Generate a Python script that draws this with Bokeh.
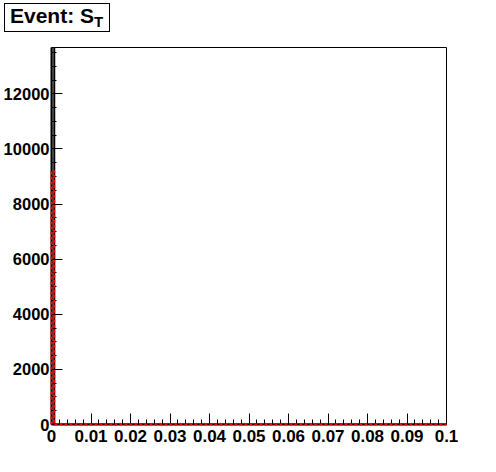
from bokeh.plotting import figure
from bokeh.models import FixedTicker, Range1d, Div
from bokeh.layouts import column
from bokeh.embed import file_html
from bokeh.resources import INLINE

# ---- data ----
bin_edges = [0.0, 0.0007, 0.1]
black_counts = [13700, 0]
red_counts = [9200, 0]

x_ticks = [0.0, 0.01, 0.02, 0.03, 0.04, 0.05, 0.06, 0.07, 0.08, 0.09, 0.1]
x_tick_labels = ["0", "0.01", "0.02", "0.03", "0.04", "0.05", "0.06", "0.07", "0.08", "0.09", "0.1"]
x_minor_step = 0.002
y_ticks = [0, 2000, 4000, 6000, 8000, 10000, 12000]
y_tick_labels = ["0", "2000", "4000", "6000", "8000", "10000", "12000"]
y_minor_step = 500
x_max = 0.1
y_max = 13680

title_text = "Event: S"
title_sub = "T"

FONT = "Liberation Sans"

W = 490
DIV_H = 36
FIG_H = 430
p = figure(width=W, height=FIG_H, output_backend="svg", toolbar_location=None,
           x_range=Range1d(0, x_max), y_range=Range1d(0, y_max),
           min_border_left=50, min_border_top=11, min_border_right=44, min_border_bottom=42)
p.background_fill_color = "white"
p.border_fill_color = "white"
p.outline_line_color = "black"
p.outline_line_width = 1
p.grid.visible = False

x_minor = [round(i * x_minor_step, 6) for i in range(int(round(x_max / x_minor_step)) + 1)]
y_minor = [i * y_minor_step for i in range(int(y_max // y_minor_step) + 1)]
p.xaxis.ticker = FixedTicker(ticks=x_ticks, minor_ticks=x_minor)
p.yaxis.ticker = FixedTicker(ticks=y_ticks, minor_ticks=y_minor)
p.xaxis.major_label_overrides = {t: l for t, l in zip(x_ticks, x_tick_labels)}
p.yaxis.major_label_overrides = {t: l for t, l in zip(y_ticks, y_tick_labels)}

for ax in (p.xaxis, p.yaxis):
    ax.axis_line_color = "black"
    ax.axis_line_width = 2
    ax.major_tick_in = 11
    ax.major_tick_out = 0
    ax.minor_tick_in = 5
    ax.minor_tick_out = 0
    ax.major_tick_line_color = "black"
    ax.minor_tick_line_color = "black"
    ax.major_label_text_font = FONT
    ax.major_label_text_font_style = "bold"
    ax.major_label_text_color = "black"
p.xaxis.major_label_text_font_size = "17px"
p.yaxis.major_label_text_font_size = "16.5px"
p.yaxis.major_label_standoff = 2
p.xaxis.major_label_standoff = 5


def step_path(edges, counts):
    xs, ys = [edges[0]], [0]
    for i, c in enumerate(counts):
        xs += [edges[i], edges[i + 1]]
        ys += [c, c]
    xs.append(edges[-1])
    ys.append(0)
    return xs, ys


bx, by = step_path(bin_edges, black_counts)
rx, ry = step_path(bin_edges, red_counts)
p.line(bx, by, line_color="black", line_width=2)
p.line(rx, ry, line_color="red", line_width=2, line_dash="3 2", level="overlay")

title_html = (
    '<div style="display:inline-block; box-sizing:border-box; margin:3px 0 0 4px; '
    'width:106px; height:29px; border:1px solid black; background:white; '
    "padding:0 0 0 5px; font-family:'Liberation Sans'; font-weight:bold; "
    'font-size:21px; line-height:24px; color:black; white-space:nowrap;">'
    f'{title_text}<sub style="font-size:15px; line-height:0; vertical-align:-4px;">{title_sub}</sub>'
    '</div>'
)
title_div = Div(text=title_html, width=W, height=DIV_H,
                styles={"margin": "0", "padding": "0"})

layout = column(title_div, p, spacing=0)

open("out.html", "w").write(file_html(layout, INLINE))
